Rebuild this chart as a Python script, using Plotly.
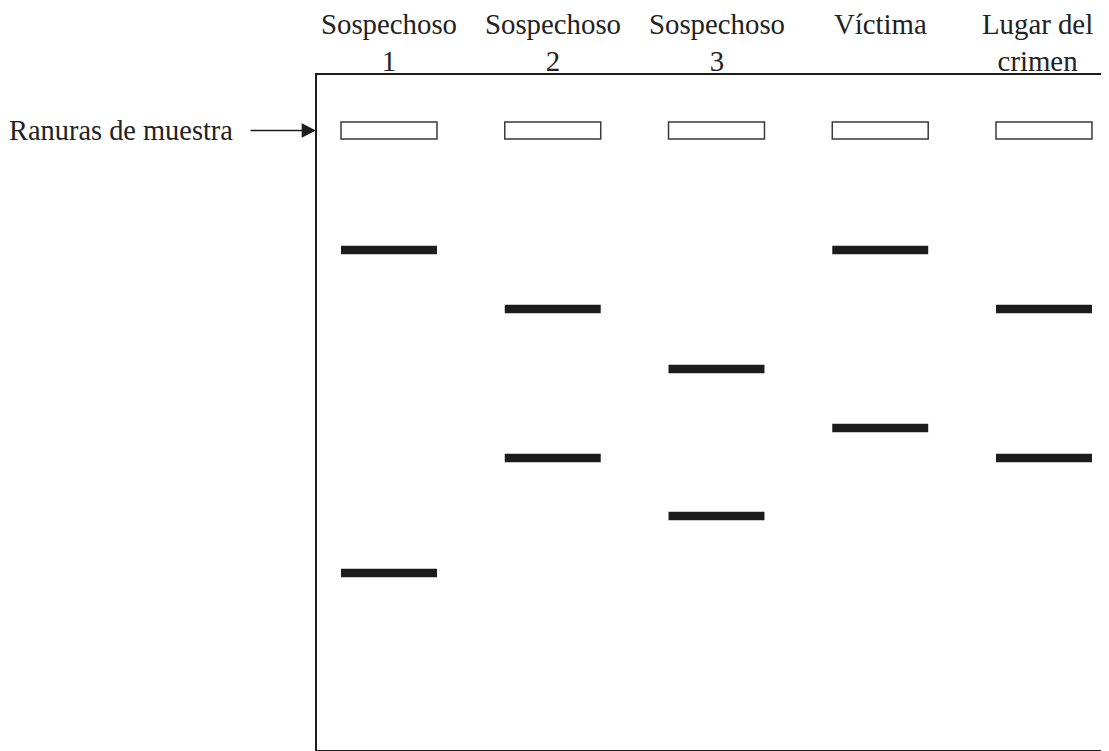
import plotly.graph_objects as go

# Lanes (categories)
lane_labels = ["Sospechoso<br>1", "Sospechoso<br>2", "Sospechoso<br>3", "Víctima", "Lugar del<br>crimen"]
lane_pos = [1, 2, 3, 4, 5]

# Band migration distances (units from top of gel), per lane
band_lane = [1, 1, 2, 2, 3, 3, 4, 4, 5, 5]
band_dist = [175, 498, 234, 383, 294, 441, 175, 353, 234, 383]

# Sample wells
well_dist = 55.5
well_label = "Ranuras de muestra"

# Styles
BAND_HALF_W = 0.293
BAND_HALF_H = 4.2
WELL_HALF_H = 8.5
INK = "#1c1c1c"
FONT = "Liberation Serif, Times New Roman, serif"
FS = 28.8

fig = go.Figure()
# invisible trace to establish axes
fig.add_trace(go.Scatter(x=lane_pos, y=[well_dist] * len(lane_pos), mode="markers",
                         marker=dict(opacity=0), hoverinfo="skip", showlegend=False))

shapes = []
for xl in lane_pos:
    shapes.append(dict(type="rect", xref="x", yref="y",
                       x0=xl - BAND_HALF_W, x1=xl + BAND_HALF_W,
                       y0=well_dist - WELL_HALF_H, y1=well_dist + WELL_HALF_H,
                       line=dict(color="#3a3a3a", width=1.5), fillcolor="white"))
for xl, d in zip(band_lane, band_dist):
    shapes.append(dict(type="rect", xref="x", yref="y",
                       x0=xl - BAND_HALF_W, x1=xl + BAND_HALF_W,
                       y0=d - BAND_HALF_H, y1=d + BAND_HALF_H,
                       line=dict(width=0), fillcolor=INK))

annotations = []
for xl, lab in zip(lane_pos, lane_labels):
    annotations.append(dict(x=xl, y=1, xref="x", yref="paper", text=lab, showarrow=False,
                            xanchor="center", yanchor="top", yshift=67,
                            borderpad=0, borderwidth=0,
                            xshift=-6 if xl == 5 else 0,
                            font=dict(family=FONT, size=FS, color="#222")))
annotations.append(dict(x=0, y=well_dist, xref="paper", yref="y", text=well_label,
                        showarrow=False, xanchor="right", yanchor="middle", xshift=-84,
                        borderpad=0, borderwidth=0,
                        font=dict(family=FONT, size=28.4, color="#222")))
annotations.append(dict(x=0, y=well_dist, xref="paper", yref="y", text="",
                        showarrow=True, ax=-68, ay=0, arrowhead=2, arrowsize=2.2,
                        arrowwidth=1.3, arrowcolor="#1c1c1c", standoff=1))

fig.update_layout(
    width=1101, height=743,
    margin=dict(l=309, r=0, t=67, b=1),
    paper_bgcolor="white", plot_bgcolor="white",
    shapes=shapes, annotations=annotations,
    showlegend=False,
    xaxis=dict(range=[0.5603, 5.397], showline=True, mirror=True, linecolor=INK, linewidth=2.2,
               showgrid=False, zeroline=False, showticklabels=False, ticks="", fixedrange=True),
    yaxis=dict(range=[675, 0], showline=True, mirror=False, linecolor=INK, linewidth=2.2,
               showgrid=False, zeroline=False, showticklabels=False, ticks="", fixedrange=True),
)

fig.write_html("out.html")
